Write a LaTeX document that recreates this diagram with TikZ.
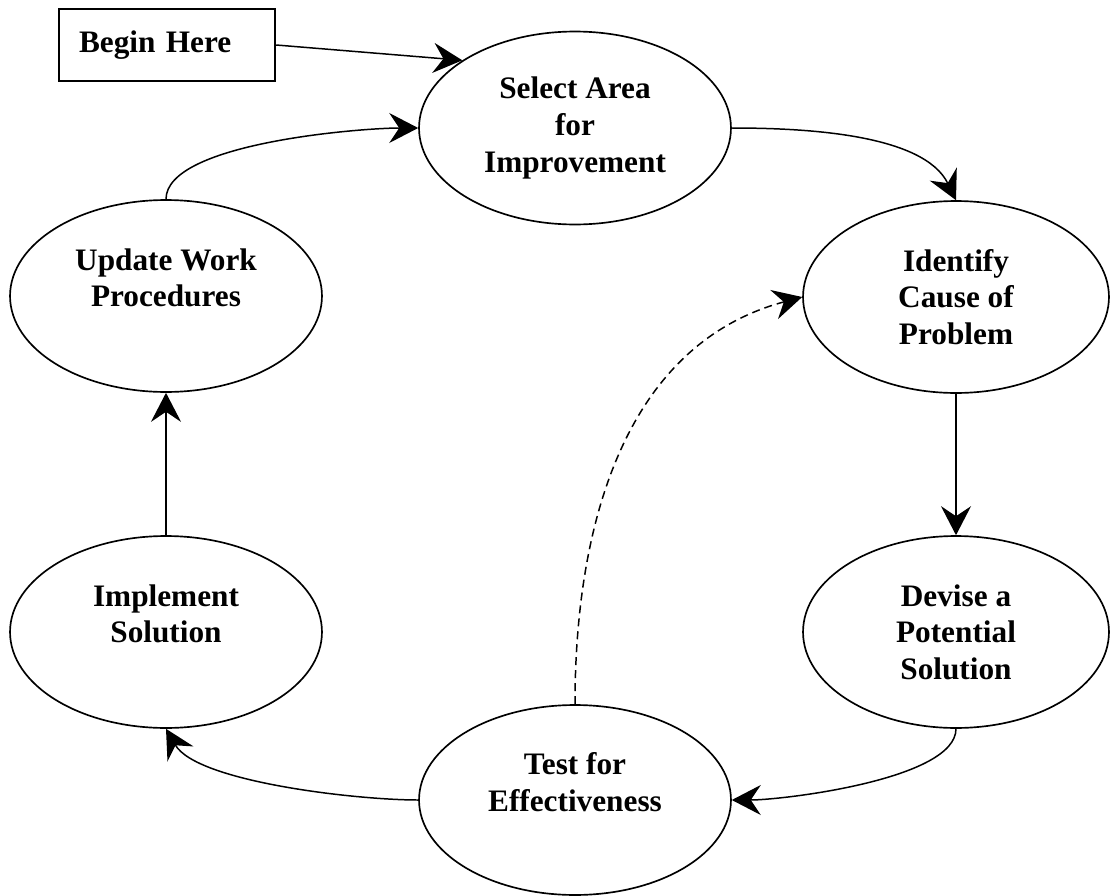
\documentclass[tikz,border=0pt]{standalone}
\usepackage{fontspec}
\setmainfont{Liberation Serif}
\usetikzlibrary{arrows.meta,shapes.geometric}

\begin{document}
\begin{tikzpicture}[x=0.02cm,y=0.02cm]
\tikzstyle{every node}=[font=\fontsize{17.8pt}{20.8pt}\selectfont\bfseries]
\tikzstyle{stage}=[draw,ellipse,line width=0.95pt,align=center,inner sep=0pt,minimum width=6.24cm,minimum height=3.84cm]
\tikzstyle{start}=[draw,rectangle,line width=1.4pt,text width=3.52cm,inner xsep=0.4cm,minimum height=1.44cm,align=left]
\tikzstyle{flow}=[line width=0.85pt,-{Stealth[length=0.58cm,width=0.6cm,inset=0.2cm]}]
\useasboundingbox (0,0) rectangle (1110,-896);

\node[start] (begin) at (167,-45) {Begin Here};
\node[stage,minimum height=3.86cm] (select) at (575,-128) {Select Area\\for\\Improvement};
\node[stage,minimum width=6.12cm] (identify) at (956,-297) {Identify\\Cause of\\Problem};
\node[stage,minimum width=6.12cm] (devise) at (956,-632) {Devise a\\Potential\\Solution};
\node[stage,minimum height=3.8cm] (test) at (575,-800) {Test for\\Effectiveness\\\mbox{}};
\node[stage] (implement) at (166,-632) {Implement\\Solution\\\mbox{}};
\node[stage] (update) at (166,-296) {Update Work\\Procedures\\\mbox{}};

\draw[flow] (begin.east) -- (select.149);
\draw[flow] (select.east) to[out=0,in=116,looseness=0.8] (identify.north);
\draw[flow] (identify) -- (devise);
\draw[flow] (devise.south) to[out=270,in=0,looseness=0.55] (test.east);
\draw[flow] (test.west) to[out=180,in=300,looseness=0.6] (implement.south);
\draw[flow] (implement) -- (update);
\draw[flow] (update.north) to[out=90,in=180,looseness=0.55] (select.west);
% loop back when the test fails
\draw[flow,dash pattern=on 0.16cm off 0.1cm] (test.north) to[out=90,in=195] (identify.west);
\end{tikzpicture}
\end{document}
